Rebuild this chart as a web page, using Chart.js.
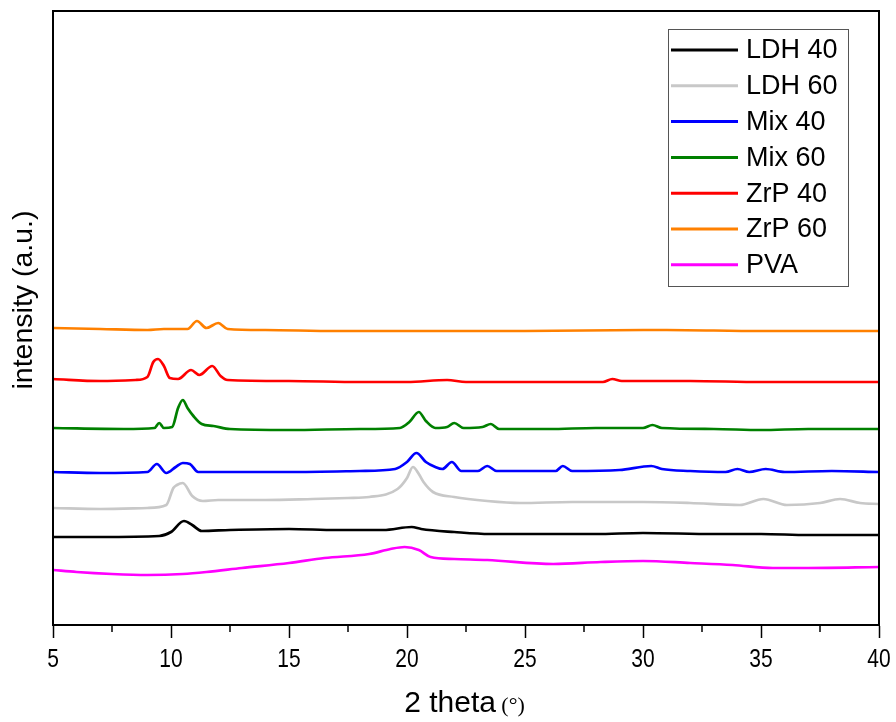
<!DOCTYPE html>
<html>
<head>
<meta charset="utf-8">
<script src="https://cdn.jsdelivr.net/npm/chart.js@4.4.0/dist/chart.umd.min.js"></script>
<style>
  html, body { margin: 0; padding: 0; background: #fff; }
  #wrap { width: 896px; height: 722px; }
</style>
</head>
<body>
<div id="wrap"><canvas id="xrd"></canvas></div>
<script>
// 2 theta positions and intensities (a.u., offset stacked)
const ldh40X = [5, 7, 9.5, 10.0, 10.55, 10.9, 11.3, 12.5, 15, 17, 19, 20.2, 20.6, 22, 23.5, 26, 28, 30, 33, 35, 37, 40];
const ldh40Y = [88, 88, 89, 93, 104, 100, 94, 95, 96, 95, 95, 98, 96, 93, 91, 91, 91, 92, 91, 91, 90, 90];

const ldh60X = [5, 7, 9, 9.8, 10.1, 10.25, 10.5, 10.9, 11.35, 12, 14, 16, 17.5, 18.4, 19.6, 20.0, 20.25, 20.5, 20.7, 21.1, 22, 23.4, 24.8, 27, 30, 32, 34.1, 35.1, 36.1, 37.5, 38.35, 39.2, 40];
const ldh60Y = [117, 116, 117, 120, 137, 140, 142, 129, 124, 125, 125, 126, 127, 128, 136, 147, 158, 151, 143, 133, 128, 124, 122, 123, 123, 122, 120, 126, 120, 122, 126, 122, 121];

const mix40X = [5, 7, 9.0, 9.4, 9.8, 10.2, 10.5, 10.8, 11.15, 12, 15, 18, 19.5, 20.0, 20.4, 20.8, 21.2, 21.5, 21.9, 22.3, 23.0, 23.4, 23.8, 26.3, 26.6, 27.0, 29, 30.35, 30.8, 32, 33.5, 34.0, 34.5, 35.2, 36, 38, 40];
const mix40Y = [153, 152, 153, 161, 152, 158, 162, 161, 153, 153, 153, 154, 156, 163, 172, 163, 158, 156, 163, 154, 154, 159, 154, 154, 159, 154, 155, 159, 156, 154, 153, 156, 153, 156, 153, 154, 153];

const mix60X = [5, 8, 9.3, 9.5, 9.7, 10.05, 10.3, 10.5, 10.7, 10.95, 11.3, 11.8, 12.5, 15, 18, 19.7, 20.1, 20.5, 20.8, 21.2, 21.7, 22.0, 22.4, 23.2, 23.55, 23.9, 26, 28, 30, 30.4, 30.8, 33, 35, 37, 40];
const mix60Y = [197, 196, 197, 202, 197, 198, 217, 225, 217, 209, 201, 199, 196, 195, 196, 197, 203, 213, 204, 197, 198, 202, 197, 198, 201, 196, 196, 197, 197, 200, 197, 196, 195, 196, 196];

const zrp40X = [5, 7, 8.5, 9.0, 9.25, 9.45, 9.7, 9.95, 10.3, 10.85, 11.2, 11.75, 12.1, 12.4, 15, 18, 20, 21.7, 22.5, 25, 27, 28.3, 28.7, 29.1, 32, 35, 40];
const zrp40Y = [246, 244, 245, 248, 263, 266, 259, 247, 246, 255, 250, 259, 249, 245, 244, 243, 243, 245, 243, 243, 243, 243, 246, 244, 244, 243, 243];

const zrp60X = [5, 7, 9, 9.7, 10.7, 11.1, 11.5, 12.0, 12.4, 14, 17, 20, 25, 30, 31, 35, 40];
const zrp60Y = [297, 296, 295, 296, 296, 304, 297, 302, 296, 295, 294, 294, 294, 295, 295, 294, 294];

const pvaX = [5, 6, 7.5, 9, 10.5, 11.5, 13, 15, 16.5, 18.4, 19.3, 19.9, 20.5, 21, 22, 23.4, 26.2, 28.2, 30, 32, 33.8, 35.5, 37, 40];
const pvaY = [55, 53, 51, 50, 51, 53, 57, 62, 67, 71, 76, 78, 75, 68, 66, 65, 61, 63, 64, 62, 60, 57, 57, 58];

const seriesNames = ['LDH 40', 'LDH 60', 'Mix 40', 'Mix 60', 'ZrP 40', 'ZrP 60', 'PVA'];
const seriesX = [ldh40X, ldh60X, mix40X, mix60X, zrp40X, zrp60X, pvaX];
const seriesY = [ldh40Y, ldh60Y, mix40Y, mix60Y, zrp40Y, zrp60Y, pvaY];
const seriesColors = ['#000000', '#c8c8c8', '#0000ff', '#008000', '#ff0000', '#ff8000', '#ff00ff'];

const xTicks = [5, 10, 15, 20, 25, 30, 35, 40];
const xMinorTicks = [7.5, 12.5, 17.5, 22.5, 27.5, 32.5, 37.5];

const mainFont = '"Liberation Sans", Arial, sans-serif';

const datasets = seriesNames.map(function (name, i) {
    return {
        label: name,
        data: seriesX[i].map(function (x, j) { return {x: x, y: seriesY[i][j]}; }),
        borderColor: seriesColors[i],
        borderWidth: 2.7,
        pointRadius: 0,
        cubicInterpolationMode: 'monotone',
        fill: false
    };
});

// frame, minor ticks, narrow tick labels, axis titles and the boxed legend
const decor = {
    id: 'decor',
    afterDraw: function (chart) {
        const ctx = chart.ctx;
        const a = chart.chartArea;
        const xs = chart.scales.x;
        ctx.save();
        ctx.strokeStyle = '#000';
        ctx.lineWidth = 2;
        ctx.strokeRect(a.left, a.top, a.right - a.left, a.bottom - a.top);

        ctx.lineWidth = 1.5;
        xMinorTicks.forEach(function (v) {
            const px = xs.getPixelForValue(v);
            ctx.beginPath();
            ctx.moveTo(px, a.bottom);
            ctx.lineTo(px, a.bottom + 7);
            ctx.stroke();
        });

        // tick labels, condensed like the original
        ctx.fillStyle = '#000';
        ctx.textAlign = 'center';
        ctx.textBaseline = 'alphabetic';
        ctx.font = '25px ' + mainFont;
        xs.ticks.forEach(function (t) {
            const px = xs.getPixelForValue(t.value);
            ctx.save();
            ctx.translate(px, 667);
            ctx.scale(0.84, 1);
            ctx.fillText(String(t.value), 0, 0);
            ctx.restore();
        });

        // x title: "2 theta (°)"
        ctx.textAlign = 'left';
        const t1 = '2 theta ';
        ctx.font = '30px ' + mainFont;
        const w1 = ctx.measureText(t1).width;
        ctx.font = '22px "Liberation Serif", serif';
        const w2 = ctx.measureText('(°)').width;
        const sx = (a.left + a.right) / 2 - (w1 + w2) / 2;
        ctx.font = '30px ' + mainFont;
        ctx.fillText(t1, sx, 712);
        ctx.font = '22px "Liberation Serif", serif';
        ctx.fillText('(°)', sx + w1 - 3, 712);

        // y title
        ctx.save();
        ctx.translate(32, 300);
        ctx.rotate(-Math.PI / 2);
        ctx.textAlign = 'center';
        ctx.font = '28.5px ' + mainFont;
        ctx.fillText('intensity (a.u.)', 0, 0);
        ctx.restore();

        // legend
        ctx.strokeStyle = '#555';
        ctx.lineWidth = 1;
        ctx.strokeRect(668.5, 29.5, 180, 257);
        ctx.font = '27px ' + mainFont;
        ctx.textAlign = 'left';
        ctx.textBaseline = 'middle';
        chart.data.datasets.forEach(function (ds, i) {
            const y = 50 + i * 35.8;
            ctx.strokeStyle = ds.borderColor;
            ctx.lineWidth = 3;
            ctx.beginPath();
            ctx.moveTo(671, y);
            ctx.lineTo(738, y);
            ctx.stroke();
            ctx.fillStyle = '#000';
            ctx.fillText(ds.label, 746, y + 1);
        });
        ctx.restore();
    }
};

new Chart(document.getElementById('xrd'), {
    type: 'line',
    data: {datasets: datasets},
    options: {
        responsive: true,
        maintainAspectRatio: false,
        animation: false,
        events: [],
        layout: {padding: {left: 53, right: 17, top: 11, bottom: 0}},
        plugins: {legend: {display: false}, tooltip: {enabled: false}},
        scales: {
            x: {
                type: 'linear',
                min: 5,
                max: 40,
                afterBuildTicks: function (scale) {
                    scale.ticks = xTicks.map(function (v) { return {value: v}; });
                },
                afterFit: function (scale) { scale.height = 97; },
                ticks: {display: false},
                grid: {drawOnChartArea: false, drawTicks: true, tickLength: 13, tickColor: '#000', tickWidth: 1.5},
                border: {color: '#000', width: 2}
            },
            y: {
                display: false,
                min: 0,
                max: 614
            }
        }
    },
    plugins: [decor]
});
</script>
</body>
</html>
